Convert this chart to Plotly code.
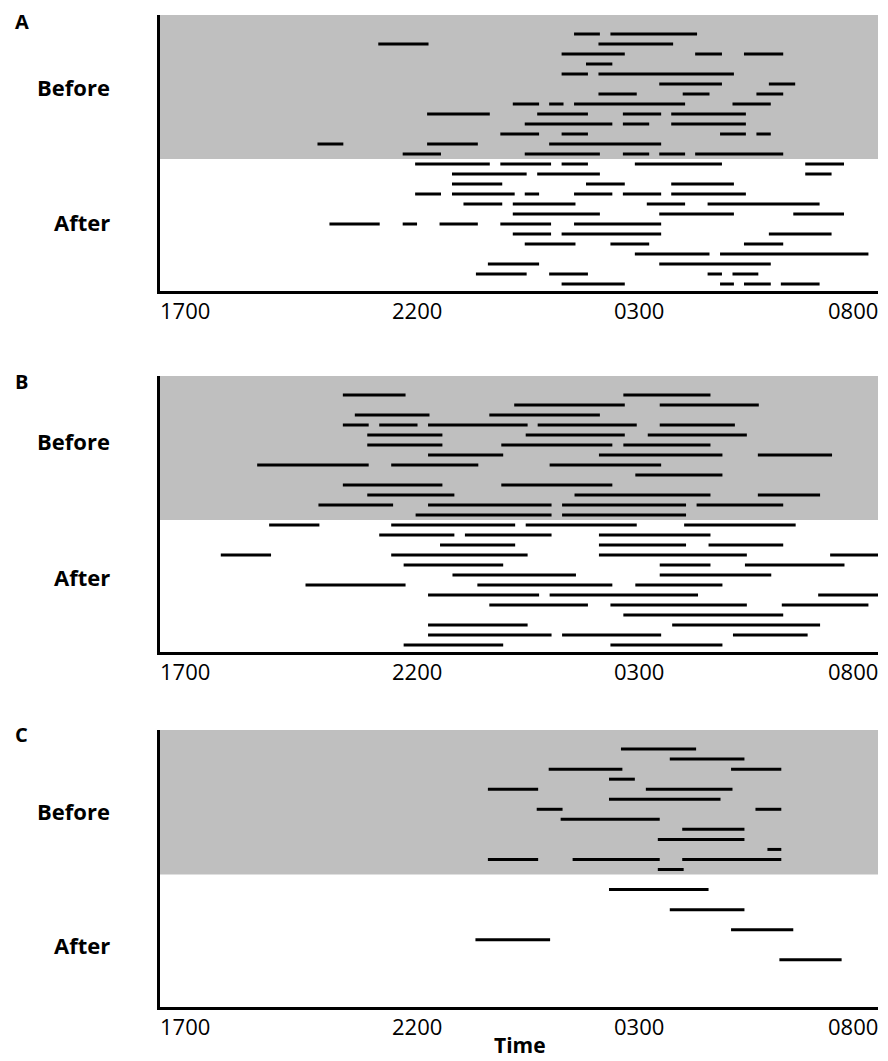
import plotly.graph_objects as go

# ---------------- data (decimal clock hours; values > 24 are after midnight) ----------------
TICK_HOURS = [17, 22, 27, 32]
TICK_LABELS = ["1700", "2200", "0300", "0800"]
PANELS = ["A", "B", "C"]
GROUPS = ["Before", "After"]
ROWS_PER_GROUP = 13

# Panel A: one list per participant row (rows 1-13 Before, 14-26 After)
A_START = [
    [25.65, 26.41], [21.56, 26.16], [25.39, 28.18, 29.20], [25.90], [25.39, 26.16],
    [27.43, 29.72], [26.16, 27.92, 29.46], [24.37, 25.13, 25.65, 28.96],
    [22.58, 24.88, 26.67, 27.68], [24.62, 26.67, 27.68], [24.11, 25.39, 28.70, 29.46],
    [20.29, 22.58, 25.13], [22.07, 24.62, 26.67, 27.43, 28.18],
    [22.33, 24.11, 25.39, 26.92, 30.48], [23.10, 24.88, 30.48], [23.10, 25.90, 27.68],
    [22.33, 23.10, 24.62, 25.65, 26.67, 27.68], [23.34, 24.37, 27.17, 28.44],
    [24.37, 27.43, 30.23], [20.54, 22.07, 22.84, 24.11, 25.65], [24.37, 25.39, 29.72],
    [24.62, 26.41, 29.20], [26.92, 28.70], [23.85, 27.43], [23.60, 25.13, 28.44, 28.96],
    [25.39, 28.70, 29.20, 29.97],
]
A_END = [
    [26.19, 28.22], [22.61, 27.72], [26.71, 28.74, 30.02], [26.45], [25.94, 28.99],
    [28.74, 30.27], [26.96, 28.48, 30.02], [24.92, 25.43, 27.97, 29.76],
    [23.89, 25.94, 27.47, 29.24], [26.45, 27.22, 29.24], [24.92, 25.94, 29.24, 29.76],
    [20.83, 23.64, 27.47], [22.87, 26.19, 27.22, 27.97, 30.02],
    [23.89, 25.17, 25.94, 28.74, 31.29], [24.66, 26.19, 31.03], [24.15, 26.71, 28.99],
    [22.87, 24.41, 24.92, 26.45, 27.47, 29.24], [24.15, 25.68, 27.97, 30.78],
    [26.19, 28.99, 31.29], [21.59, 22.37, 23.64, 25.17, 27.47], [25.17, 27.47, 31.03],
    [25.68, 27.22, 30.02], [28.48, 31.80], [24.92, 29.76], [24.66, 25.94, 28.74, 29.50],
    [26.71, 28.99, 29.76, 30.78],
]

# Panel B
B_START = [
    [20.82, 26.68], [24.40, 27.44], [21.07, 23.88], [20.82, 21.58, 22.60, 24.89, 27.44],
    [21.33, 24.64, 27.19], [21.33, 24.13, 26.68], [22.60, 26.17, 29.49],
    [19.03, 21.83, 25.14], [26.93], [20.82, 24.13], [21.33, 25.66, 29.49],
    [20.31, 22.60, 25.40, 28.21], [22.34, 25.40],
    [19.28, 21.83, 24.64, 27.95], [21.58, 23.37, 26.17], [22.85, 26.17, 28.46],
    [18.27, 21.83, 26.17, 31.00], [22.09, 27.44, 29.22], [23.11, 27.44],
    [20.04, 23.63, 26.93], [22.60, 25.14, 30.75], [23.88, 26.41, 29.99], [26.68],
    [22.60, 27.70], [22.60, 25.40, 28.97], [22.09, 26.41],
]
B_END = [
    [22.13, 28.50], [26.71, 29.51], [22.63, 26.19], [21.36, 22.38, 24.68, 26.96, 29.01],
    [22.90, 26.71, 29.26], [22.90, 26.45, 28.50], [24.17, 28.75, 31.04],
    [21.36, 23.65, 27.47], [28.75], [22.90, 26.45], [23.15, 28.50, 30.79],
    [21.87, 25.18, 27.99, 30.02], [25.18, 27.99],
    [20.33, 24.42, 26.96, 30.28], [23.15, 25.18, 28.50], [24.42, 27.99, 30.02],
    [19.32, 24.68, 29.26, 32.00], [24.17, 28.50, 31.30], [25.69, 29.77],
    [22.13, 26.45, 28.75], [24.92, 28.24, 32.00], [25.94, 29.26, 31.80], [30.02],
    [24.68, 30.79], [25.18, 27.47, 30.53], [24.17, 28.75],
]

# Panel C
C_START = [
    [26.63], [27.65], [25.12, 28.93], [26.38], [23.85, 27.15], [26.38], [24.87, 29.44],
    [25.37], [27.91], [27.40], [29.69], [23.85, 25.62, 27.91], [27.40],
    [], [26.38], [], [27.65], [], [28.93], [23.59], [], [29.94], [], [], [], [],
]
C_END = [
    [28.20], [29.21], [26.66, 29.98], [26.92], [24.90, 28.96], [28.71], [25.41, 29.98],
    [27.44], [29.21], [29.21], [29.98], [24.90, 27.44, 29.98], [27.94],
    [], [28.46], [], [29.21], [], [30.23], [25.15], [], [31.24], [], [], [], [],
]

STARTS = [A_START, B_START, C_START]
ENDS = [A_END, B_END, C_END]

# ---------------- layout geometry ----------------
W, H = 888, 1061
X_LEFT, X_RIGHT = 160, 878
PANEL_PX = [(15, 291), (376, 652), (730, 1007)]      # top / bottom (axis) pixel of each panel
LABEL_PX = [(87, 222), (441, 577), (811, 945)]        # Before / After label centres
LETTER_PX = [21, 381, 734]
Y_TOP, Y_BOTTOM = -0.9, 26.7
GRAY_BOTTOM = ROWS_PER_GROUP + 0.5
FONT = "Open Sans"
TXT = "#000000"

fig = go.Figure()
layout = dict(
    width=W, height=H, margin=dict(l=0, r=0, t=0, b=0),
    paper_bgcolor="white", plot_bgcolor="rgba(0,0,0,0)", showlegend=False,
)
shapes, annotations = [], []

for i, (starts, ends) in enumerate(zip(STARTS, ENDS)):
    n = "" if i == 0 else str(i + 1)
    xs, ys = [], []
    for r, (ss, ee) in enumerate(zip(starts, ends), start=1):
        for s, e in zip(ss, ee):
            xs += [s, e, None]
            ys += [r, r, None]
    fig.add_trace(go.Scatter(
        x=xs, y=ys, mode="lines", xaxis="x" + n, yaxis="y" + n,
        line=dict(color="#000000", width=3), hoverinfo="skip",
    ))
    top, bot = PANEL_PX[i]
    layout["xaxis" + n] = dict(
        domain=[X_LEFT / W, X_RIGHT / W], range=[TICK_HOURS[0], TICK_HOURS[-1]],
        anchor="y" + n, showline=True, linecolor="#000000", linewidth=2.5,
        showgrid=False, zeroline=False, showticklabels=False, ticks="",
    )
    layout["yaxis" + n] = dict(
        domain=[1 - bot / H, 1 - top / H], range=[Y_BOTTOM, Y_TOP],
        anchor="x" + n, showline=True, linecolor="#000000", linewidth=2.5,
        showgrid=False, zeroline=False, showticklabels=False, ticks="",
    )
    shapes.append(dict(
        type="rect", xref=("x" + n) + " domain", yref="y" + n,
        x0=0, x1=1, y0=Y_TOP, y1=GRAY_BOTTOM,
        fillcolor="#BFBFBF", line=dict(width=0), layer="below",
    ))
    # panel letter
    annotations.append(dict(
        text="<b>%s</b>" % PANELS[i], xref="paper", yref="paper",
        x=13 / W, y=1 - LETTER_PX[i] / H, xanchor="left", yanchor="middle",
        showarrow=False, font=dict(family=FONT, size=20, color=TXT),
    ))
    # group labels
    for g, gy in zip(GROUPS, LABEL_PX[i]):
        annotations.append(dict(
            text="<b>%s</b>" % g, xref="paper", yref="paper",
            x=112 / W, y=1 - gy / H, xanchor="right", yanchor="middle",
            showarrow=False, font=dict(family=FONT, size=22, color=TXT),
        ))
    # time labels
    anchors = ["left", "center", "center", "right"]
    shifts = [-2, 18, 0, 2]
    for hv, lab, an, sh in zip(TICK_HOURS, TICK_LABELS, anchors, shifts):
        annotations.append(dict(
            text=lab, xref="x" + n, yref="paper", x=hv, xshift=sh,
            y=1 - (bot + 19) / H, xanchor=an, yanchor="middle",
            showarrow=False, font=dict(family=FONT, size=22, color=TXT),
        ))

annotations.append(dict(
    text="<b>Time</b>", xref="paper", yref="paper", x=520 / W, y=0,
    xanchor="center", yanchor="bottom", showarrow=False,
    font=dict(family=FONT, size=21, color=TXT),
))

layout["shapes"] = shapes
layout["annotations"] = annotations
fig.update_layout(**layout)
fig.write_html(
    "out.html",
    config={"displayModeBar": False},
    post_script="document.body.style.margin='0px';document.body.style.overflow='hidden';",
)
